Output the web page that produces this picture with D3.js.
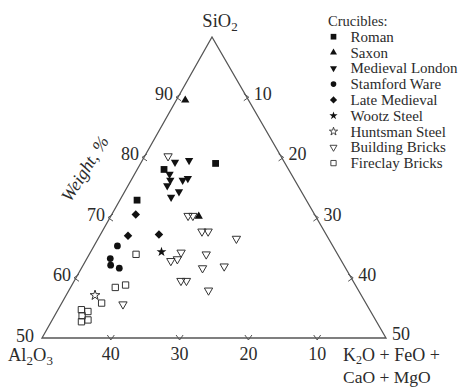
<!DOCTYPE html>
<html>
<head>
<meta charset="utf-8">
<script src="https://cdn.jsdelivr.net/npm/d3@7"></script>
<style>
  body { margin: 0; background: #fff; }
  text { font-family: "Liberation Serif", "Times New Roman", serif; fill: #2b2b2b; }
</style>
</head>
<body>
<div id="chart"></div>
<script>
// each point is [SiO2, Al2O3] in weight %, the rest is K2O + FeO + CaO + MgO
const roman = [[79.0, 10.1], [78.0, 18.1], [72.9, 24.6]];
const saxon = [[89.5, 9.2], [70.2, 17.0]];
const medievalLondon = [[79.2, 15.9], [79.5, 13.7], [77.2, 17.7], [76.2, 18.1], [76.2, 16.3],
  [76.5, 15.4], [75.3, 19.0], [74.3, 17.8], [73.4, 19.4]];
const stamfordWare = [[65.3, 31.3], [63.2, 33.4], [62.1, 33.9], [61.6, 32.9]];
const lateMedieval = [[70.5, 26.0], [67.0, 28.9], [67.2, 24.3]];
const wootzSteel = [[64.3, 25.4]];
const huntsmanSteel = [[57.1, 38.7]];
const buildingBricks = [[80.2, 16.4], [70.3, 18.5], [70.3, 17.8], [67.7, 17.8], [67.7, 16.9],
  [66.5, 13.4], [64.2, 22.6], [63.9, 19.1], [62.8, 24.8], [63.1, 23.7], [61.6, 20.8],
  [61.9, 17.5], [59.5, 25.0], [59.5, 24.2], [57.9, 21.8], [55.6, 35.4]];
const fireclayBricks = [[63.9, 29.3], [58.4, 35.1], [58.8, 33.4], [55.8, 38.4], [54.7, 41.9],
  [54.4, 41.1], [53.7, 42.3], [53.0, 41.8], [52.7, 42.9]];

const seriesNames = ['Roman', 'Saxon', 'Medieval London', 'Stamford Ware', 'Late Medieval',
  'Wootz Steel', 'Huntsman Steel', 'Building Bricks', 'Fireclay Bricks'];
const seriesData = [roman, saxon, medievalLondon, stamfordWare, lateMedieval,
  wootzSteel, huntsmanSteel, buildingBricks, fireclayBricks];

const siTicks = [60, 70, 80, 90];      // left edge
const otherTicks = [10, 20, 30, 40];   // right edge
const alTicks = [40, 30, 20, 10];      // bottom edge

const width = 461, height = 387;
const L = [42, 338], R = [386, 338], T = [212, 37];

const topScale = d3.scaleLinear().domain([50, 100]).range([0, 1]);
const sideScale = d3.scaleLinear().domain([0, 50]).range([0, 1]);

function project(si, al) {
  const wt = topScale(si), wl = sideScale(al), wr = 1 - wt - wl;
  return [L[0] * wl + R[0] * wr + T[0] * wt, L[1] * wl + R[1] * wr + T[1] * wt];
}

// marker styles, one per series
const styles = [
  { type: d3.symbolSquare, size: 46, rot: 0, open: false },
  { type: d3.symbolTriangle, size: 30, rot: 0, open: false },
  { type: d3.symbolTriangle, size: 30, rot: 180, open: false },
  { type: d3.symbolCircle, size: 36, rot: 0, open: false },
  { type: d3.symbolSquare, size: 36, rot: 45, open: false },
  { type: d3.symbolStar, size: 30, rot: 0, open: false },
  { type: d3.symbolStar, size: 30, rot: 0, open: true },
  { type: d3.symbolTriangle, size: 30, rot: 180, open: true },
  { type: d3.symbolSquare, size: 40, rot: 0, open: true }
];

const svg = d3.select('#chart').append('svg')
  .attr('width', width).attr('height', height);

// triangle frame
svg.append('path')
  .attr('d', 'M' + L + 'L' + R + 'L' + T + 'Z')
  .attr('fill', 'none')
  .attr('stroke', '#555')
  .attr('stroke-width', 1.3);

// chevron ticks
function chevron(p, dx, dy) {
  // tip points along (dx, dy)
  const nx = -dy, ny = dx, len = 5, half = 3.5;
  const tip = [p[0] + dx * 2, p[1] + dy * 2];
  const base = [tip[0] - dx * len, tip[1] - dy * len];
  return 'M' + [base[0] + nx * half, base[1] + ny * half] + 'L' + tip +
    'L' + [base[0] - nx * half, base[1] - ny * half];
}

const tickG = svg.append('g')
  .attr('fill', 'none').attr('stroke', '#555').attr('stroke-width', 1);

siTicks.forEach(v => {
  const p = project(v, 100 - v);
  tickG.append('path').attr('d', chevron(p, -1, 0));
  svg.append('text').attr('x', p[0] - 5).attr('y', p[1] + 3)
    .attr('text-anchor', 'end').attr('font-size', 18).text(v);
});
otherTicks.forEach(v => {
  const p = project(100 - v, 0);
  tickG.append('path').attr('d', chevron(p, 1, 0));
  svg.append('text').attr('x', p[0] + 7).attr('y', p[1] + 3)
    .attr('font-size', 18).text(v);
});
alTicks.forEach(v => {
  const p = project(50, v);
  tickG.append('path').attr('d', chevron(p, 0, 1));
  svg.append('text').attr('x', p[0]).attr('y', p[1] + 22)
    .attr('text-anchor', 'middle').attr('font-size', 18).text(v);
});

// vertex labels
svg.append('text').attr('x', L[0] - 8).attr('y', L[1] + 4)
  .attr('text-anchor', 'end').attr('font-size', 18).text('50');
svg.append('text').attr('x', R[0] + 6).attr('y', R[1] + 2)
  .attr('font-size', 18).text('50');

const si = svg.append('text').attr('x', 220).attr('y', 27)
  .attr('text-anchor', 'middle').attr('font-size', 18.5);
si.append('tspan').text('SiO');
si.append('tspan').attr('font-size', 13).attr('dy', 4).text('2');

const al = svg.append('text').attr('x', 8).attr('y', 361).attr('font-size', 18.5);
al.append('tspan').text('Al');
al.append('tspan').attr('font-size', 13).attr('dy', 4).text('2');
al.append('tspan').attr('dy', -4).text('O');
al.append('tspan').attr('font-size', 13).attr('dy', 4).text('3');

const ox = svg.append('text').attr('x', 343).attr('y', 361).attr('font-size', 18);
ox.append('tspan').text('K');
ox.append('tspan').attr('font-size', 12).attr('dy', 3).text('2');
ox.append('tspan').attr('dy', -3).text('O + FeO +');
svg.append('text').attr('x', 343).attr('y', 383).attr('font-size', 17.5).text('CaO + MgO');

svg.append('text')
  .attr('transform', 'translate(90,172) rotate(-58)')
  .attr('text-anchor', 'middle')
  .attr('font-size', 18)
  .attr('font-style', 'italic')
  .text('Weight, %');

// data points
function marker(s, scale) {
  return d3.symbol().type(s.type).size(s.size * scale)();
}

seriesData.forEach((data, i) => {
  const s = styles[i];
  svg.append('g').selectAll('path')
    .data(data)
    .enter().append('path')
    .attr('transform', d => 'translate(' + project(d[0], d[1]) + ') rotate(' + s.rot + ')')
    .attr('d', marker(s, 1))
    .attr('fill', s.open ? 'none' : '#111')
    .attr('stroke', s.open ? '#333' : 'none')
    .attr('stroke-width', 1);
});

// legend
const legend = svg.append('g');
legend.append('text').attr('x', 328).attr('y', 26).attr('font-size', 14.5).text('Crucibles:');
seriesNames.forEach((name, i) => {
  const s = styles[i];
  const y = 36.7 + i * 15.8;
  legend.append('path')
    .attr('transform', 'translate(333.5,' + y + ') rotate(' + s.rot + ')')
    .attr('d', marker(s, 0.7))
    .attr('fill', s.open ? 'none' : '#111')
    .attr('stroke', s.open ? '#333' : 'none')
    .attr('stroke-width', 0.9);
  legend.append('text').attr('x', 350.5).attr('y', y + 5)
    .attr('font-size', 15).text(name);
});
</script>
</body>
</html>
